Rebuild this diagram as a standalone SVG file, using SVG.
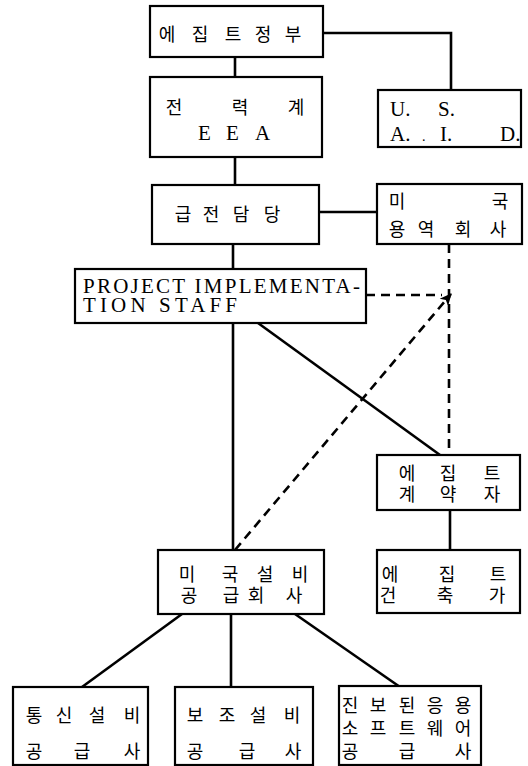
<svg xmlns="http://www.w3.org/2000/svg" width="528" height="766" viewBox="0 0 528 766">
<defs>
<style>
.box{fill:#fff;stroke:#000;stroke-width:2.2}
.ln{fill:none;stroke:#000;stroke-width:2.6}
.dsh{fill:none;stroke:#000;stroke-width:2.6;stroke-dasharray:9,6}
.ko{font-family:"Noto Sans CJK KR","Noto Sans",sans-serif;font-size:18px;text-anchor:middle;dominant-baseline:central;fill:#000}
.la{font-family:"Liberation Serif","DejaVu Serif",serif;font-size:21px;fill:#000}
</style>
<marker id="arr" markerWidth="14" markerHeight="14" refX="11" refY="6" orient="auto" markerUnits="userSpaceOnUse">
<path d="M0,0.5 L12,6 L0,11.5 L3,6 Z" fill="#000"/>
</marker>
</defs>
<rect width="528" height="766" fill="#fff"/>
<g id="connectors">
<path class="ln" d="M323,33 H451 V90"/>
<path class="ln" d="M235,57 V77"/>
<path class="ln" d="M235,157 V185"/>
<path class="ln" d="M319,212 H377"/>
<path class="ln" d="M233,244 V269"/>
<path class="ln" d="M233,323 V550"/>
<path class="ln" d="M258,323 L440,455"/>
<path class="ln" d="M450,510 V550"/>
<path class="ln" d="M182,614 L82,687"/>
<path class="ln" d="M231,614 V687"/>
<path class="ln" d="M295,614 L400,687"/>
<path class="dsh" d="M449,244 V455"/>
<path class="dsh" d="M366,295 H442"/>
<path class="dsh" d="M235,550 L451,294" marker-end="url(#arr)"/>
</g>
<g id="egypt-gov">
<rect class="box" x="150" y="6" width="173" height="51"/>
<text class="ko" x="167 200 233 263 293" y="33">에집트정부</text>
</g>
<g id="usaid">
<rect class="box" x="378" y="90" width="143" height="57"/>
<text class="la" x="390" y="116">U.</text>
<text class="la" x="438" y="116">S.</text>
<text class="la" x="390" y="141">A.</text>
<text class="la" x="422" y="141" style="font-size:14px">.</text>
<text class="la" x="440" y="141">I.</text>
<text class="la" x="500" y="141">D.</text>
</g>
<g id="eea">
<rect class="box" x="150" y="77" width="172" height="80"/>
<text class="ko" x="174 240 296" y="106">전력계</text>
<text class="la" x="198 226 255" y="140">EEA</text>
</g>
<g id="dispatch">
<rect class="box" x="152" y="185" width="167" height="59"/>
<text class="ko" x="183 211 241 272" y="213">급전담당</text>
</g>
<g id="us-consultant">
<rect class="box" x="377" y="184" width="145" height="60"/>
<text class="ko" x="397 500" y="200">미국</text>
<text class="ko" x="397 426 463 498" y="228">용역회사</text>
</g>
<g id="pis">
<rect class="box" x="75" y="269" width="291" height="54"/>
<text class="la" x="83" y="293" textLength="277" lengthAdjust="spacing">PROJECT IMPLEMENTA-</text>
<text class="la" x="83" y="312" textLength="154" lengthAdjust="spacing">TION STAFF</text>
</g>
<g id="egypt-contractor">
<rect class="box" x="377" y="455" width="143" height="55"/>
<text class="ko" x="407 448 492" y="472">에집트</text>
<text class="ko" x="407 448 492" y="493">계약자</text>
</g>
<g id="egypt-architect">
<rect class="box" x="377" y="550" width="143" height="63"/>
<text class="ko" x="390 447 498" y="573">에집트</text>
<text class="ko" x="388 445 497" y="594">건축가</text>
</g>
<g id="us-equipment">
<rect class="box" x="158" y="550" width="166" height="64"/>
<text class="ko" x="187 230 265 300" y="573">미국설비</text>
<text class="ko" x="189 231 256 294" y="594">공급회사</text>
</g>
<g id="telecom">
<rect class="box" x="13" y="687" width="135" height="78"/>
<text class="ko" x="34 64 97 132" y="714">통신설비</text>
<text class="ko" x="34 82 132" y="750">공급사</text>
</g>
<g id="aux">
<rect class="box" x="175" y="687" width="138" height="78"/>
<text class="ko" x="195 227 258 292" y="714">보조설비</text>
<text class="ko" x="195 247 293" y="750">공급사</text>
</g>
<g id="software">
<rect class="box" x="339" y="686" width="142" height="79"/>
<text class="ko" x="350 378 407 435 463" y="704">진보된응용</text>
<text class="ko" x="350 378 407 435 463" y="727">소프트웨어</text>
<text class="ko" x="350 407 463" y="750">공급사</text>
</g>
</svg>
